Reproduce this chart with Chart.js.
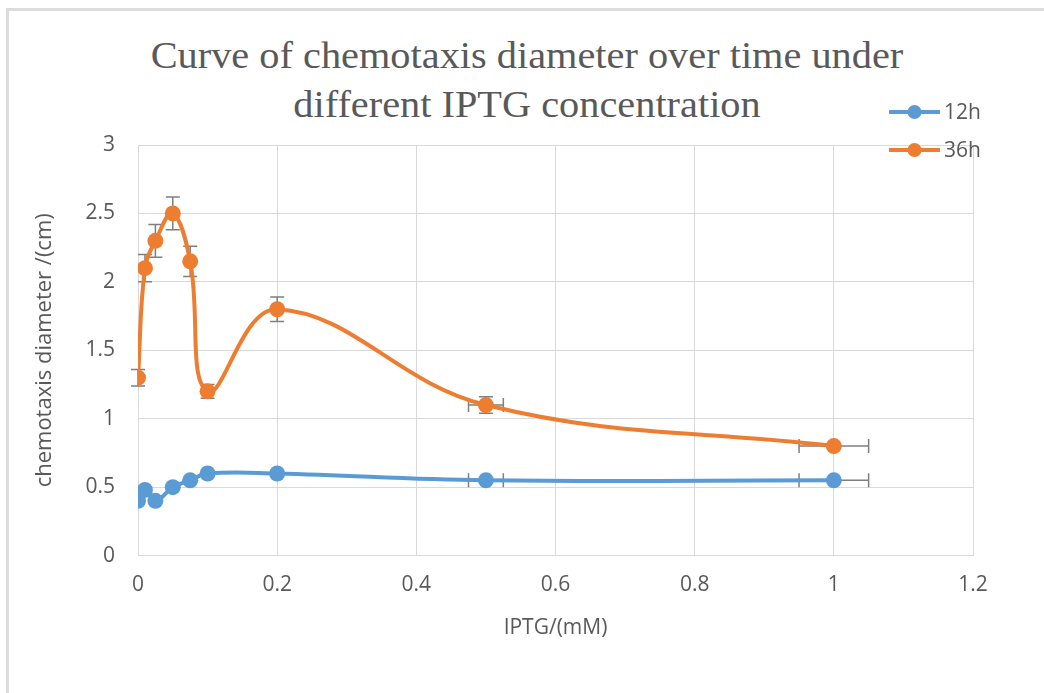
<!DOCTYPE html>
<html>
<head>
<meta charset="utf-8">
<script src="https://cdn.jsdelivr.net/npm/chart.js@4/dist/chart.umd.min.js"></script>
<style>
  body { margin: 0; background: #fff; }
  #wrap { position: relative; width: 1044px; height: 693px; overflow: hidden; }
  #frame { position: absolute; left: 6px; top: 8px; width: 1100px; height: 800px; border: 3px solid #dcdcdc; }
  #title { position: absolute; left: 0; width: 1054px; top: 31px; text-align: center;
           font-family: "Liberation Serif", serif; font-size: 37px; line-height: 49px; color: #595959;
           transform: scaleX(1.09); transform-origin: 527px 0; }
  canvas { position: absolute; left: 0; top: 0; }
</style>
</head>
<body>
<div id="wrap">
  <div id="frame"></div>
  <div id="title">Curve of chemotaxis diameter over time under<br>different IPTG concentration</div>
  <canvas id="chart" width="1044" height="693"></canvas>
</div>
<script>
// IPTG concentrations (mM)
const iptg = [0, 0.01, 0.025, 0.05, 0.075, 0.1, 0.2, 0.5, 1];

const diam12h = [0.4, 0.48, 0.4, 0.5, 0.55, 0.6, 0.6, 0.55, 0.55];
const diam36h = [1.3, 2.1, 2.3, 2.5, 2.15, 1.2, 1.8, 1.1, 0.8];

// error bars
const yErr12h = [0, 0, 0, 0, 0, 0, 0, 0, 0];
const yErr36h = [0.06, 0.1, 0.12, 0.12, 0.11, 0.05, 0.09, 0.06, 0];
const xErr12h = [0, 0, 0, 0, 0, 0, 0, 0.025, 0.05];
const xErr36h = [0, 0, 0, 0, 0, 0, 0, 0.025, 0.05];

const seriesLabels = ['12h', '36h'];
const blue = '#5b9bd5';
const orange = '#ed7d31';
const gray = '#595959';
const gridColor = '#d9d9d9';

function points(ys) {
  return iptg.map((x, i) => ({ x: x, y: ys[i] }));
}

// draws x/y error bars behind the markers
const errorBars = {
  id: 'errorBars',
  beforeDatasetsDraw(chart) {
    const ctx = chart.ctx;
    const xs = chart.scales.x, ys = chart.scales.y;
    const cap = 7;
    ctx.save();
    ctx.strokeStyle = '#7f7f7f';
    ctx.lineWidth = 1.5;
    chart.data.datasets.forEach(ds => {
      ds.data.forEach((p, i) => {
        const px = xs.getPixelForValue(p.x);
        const py = ys.getPixelForValue(p.y);
        const ye = ds.yErr[i], xe = ds.xErr[i];
        if (ye > 0) {
          const top = ys.getPixelForValue(p.y + ye);
          const bot = ys.getPixelForValue(p.y - ye);
          ctx.beginPath();
          ctx.moveTo(px, top); ctx.lineTo(px, bot);
          ctx.moveTo(px - cap, top); ctx.lineTo(px + cap, top);
          ctx.moveTo(px - cap, bot); ctx.lineTo(px + cap, bot);
          ctx.stroke();
        }
        if (xe > 0) {
          const l = xs.getPixelForValue(p.x - xe);
          const r = xs.getPixelForValue(p.x + xe);
          ctx.beginPath();
          ctx.moveTo(l, py); ctx.lineTo(r, py);
          ctx.moveTo(l, py - cap); ctx.lineTo(l, py + cap);
          ctx.moveTo(r, py - cap); ctx.lineTo(r, py + cap);
          ctx.stroke();
        }
      });
    });
    ctx.restore();
  }
};

// legend in the top right corner, overlapping the plot like the original
const cornerLegend = {
  id: 'cornerLegend',
  afterDraw(chart) {
    const ctx = chart.ctx;
    ctx.save();
    chart.data.datasets.forEach((ds, i) => {
      const y = 112 + i * 38;
      ctx.strokeStyle = ds.borderColor;
      ctx.lineWidth = 4;
      ctx.beginPath();
      ctx.moveTo(889, y); ctx.lineTo(940, y);
      ctx.stroke();
      ctx.fillStyle = ds.backgroundColor;
      ctx.beginPath();
      ctx.arc(914.5, y, 7, 0, Math.PI * 2);
      ctx.fill();
      ctx.fillStyle = gray;
      ctx.font = '21px "Open Sans"';
      ctx.textBaseline = 'middle';
      ctx.fillText(ds.label, 944, y + 1);
    });
    ctx.restore();
  }
};

const fmt = v => String(Number(v.toFixed(1)));

new Chart(document.getElementById('chart'), {
  type: 'scatter',
  data: {
    datasets: [
      {
        label: seriesLabels[0],
        data: points(diam12h),
        yErr: yErr12h, xErr: xErr12h,
        showLine: true,
        borderColor: blue, backgroundColor: blue,
        borderWidth: 4, tension: 0.4,
        pointRadius: 8, pointBorderWidth: 0
      },
      {
        label: seriesLabels[1],
        data: points(diam36h),
        yErr: yErr36h, xErr: xErr36h,
        showLine: true,
        borderColor: orange, backgroundColor: orange,
        borderWidth: 4, tension: 0.4,
        pointRadius: 8, pointBorderWidth: 0
      }
    ]
  },
  options: {
    responsive: false,
    animation: false,
    layout: { padding: { left: 32, right: 71, top: 145, bottom: 52 } },
    plugins: {
      legend: { display: false },
      title: { display: false },
      tooltip: { enabled: false }
    },
    scales: {
      x: {
        type: 'linear',
        min: 0, max: 1.2,
        grid: { color: gridColor, drawTicks: false },
        border: { color: gridColor },
        ticks: { stepSize: 0.2, padding: 17, color: gray, font: { family: 'Open Sans', size: 21 }, callback: fmt },
        title: { display: true, text: 'IPTG/(mM)', color: gray, padding: { top: 1, bottom: 0 },
                 font: { family: 'Open Sans', size: 21 } }
      },
      y: {
        min: 0, max: 3,
        grid: { color: gridColor, drawTicks: false },
        border: { color: gridColor },
        ticks: { stepSize: 0.5, padding: 23, color: gray, font: { family: 'Open Sans', size: 21 }, callback: fmt },
        title: { display: true, text: 'chemotaxis diameter /(cm)', color: gray, padding: 0,
                 font: { family: 'Open Sans', size: 22 } },
        afterFit(scale) { scale.width = 106; }
      }
    }
  },
  plugins: [errorBars, cornerLegend]
});
</script>
</body>
</html>
